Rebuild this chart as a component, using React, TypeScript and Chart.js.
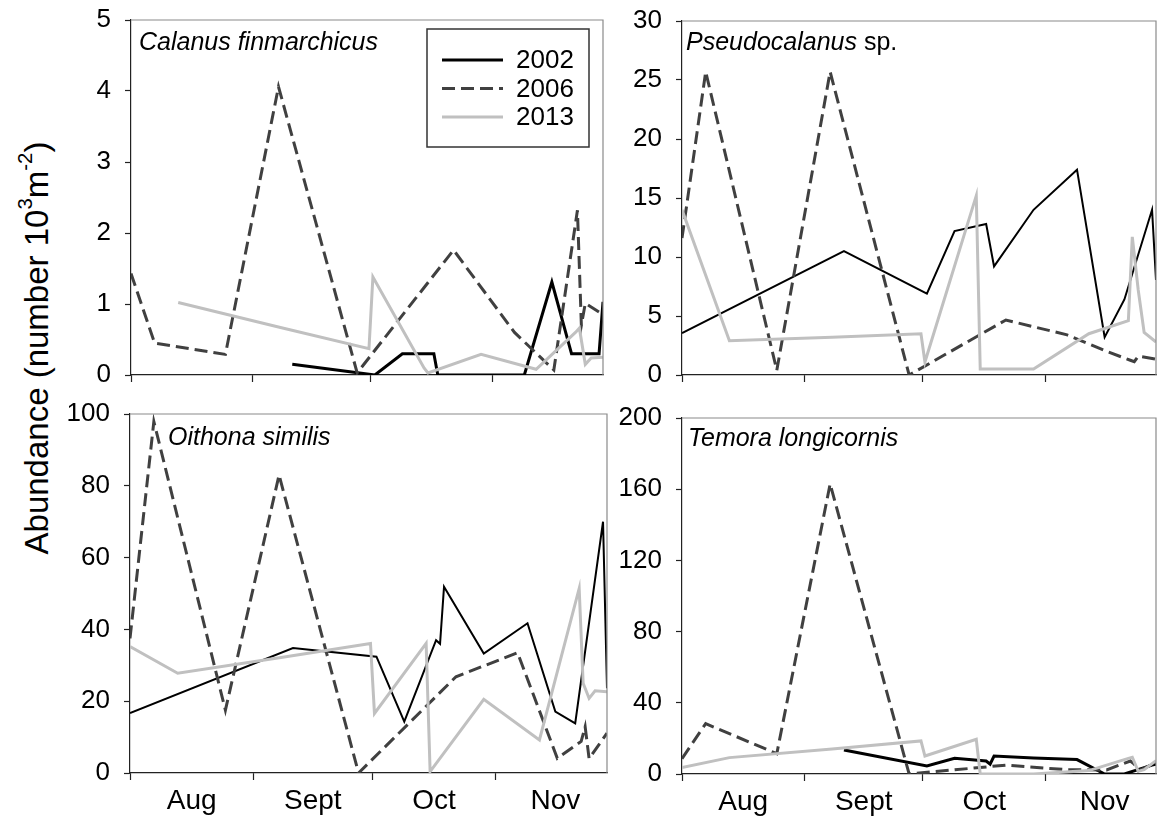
import { useEffect, useRef } from 'react'
import { Chart, registerables, type ChartConfiguration, type Plugin } from 'chart.js'

Chart.register(...registerables)

const FONT = '"Liberation Sans", Arial, sans-serif'

// x axis: days since 1 August
const monthNames = ['Aug', 'Sept', 'Oct', 'Nov']
const monthStarts = [0, 31, 61, 92]
const monthMids = [15.5, 46, 76.5, 107]
const seasonEnd = 120

const years = ['2002', '2006', '2013']

// sampling days per year
const days2002 = [0, 41, 62, 69, 77, 78, 79, 89, 100, 107, 112, 119, 120]
const days2006 = [0, 6, 24, 37.5, 57.5, 82, 97.5, 107.5, 113.5, 114.5, 115.5, 120]
const days2013 = [0, 12, 38, 60.5, 61.5, 74.5, 75.5, 89, 103, 113, 114, 115.5, 117, 120]

// Calanus finmarchicus
const calanus2002 = [null, 0.15, 0, 0.3, 0.3, 0, 0, 0, 0, 1.31, 0.3, 0.3, 1.03]
const calanus2006 = [1.43, 0.45, 0.29, 4.06, 0.03, 1.76, 0.6, 0.07, 2.32, 0.7, 1.01, 0.85]
const calanus2013 = [null, 1.02, 0.67, 0.37, 1.38, 0.1, 0.03, 0.29, 0.08, 0.6, 0.66, 0.15, 0.24, 0.25]

// Pseudocalanus sp.
const pseudo2002 = [3.55, 10.5, 6.9, 12.2, 12.8, 11.0, 9.2, 14.0, 17.4, 3.2, 6.4, 14.0, 8.05]
const pseudo2006 = [11.6, 25.7, 0.4, 25.7, 0, 4.66, 3.4, 2.0, 1.25, 1.13, 1.6, 1.35]
const pseudo2013 = [14.0, 2.9, 3.2, 3.5, 1.1, 15.2, 0.5, 0.5, 3.5, 4.6, 11.7, 7.2, 3.6, 2.8]

// Oithona similis
const oithona2002 = [16.7, 34.8, 32.4, 14.3, 37, 36, 51.9, 33.3, 41.7, 17.1, 13.8, 70, 23.6]
const oithona2006 = [37.5, 97.9, 17.5, 83, 0, 26.8, 33.5, 4.1, 8.8, 12.9, 4, 11.1]
const oithona2013 = [35.2, 27.8, 32.2, 36.1, 16.6, 36.1, 0.4, 20.5, 9.2, 51.4, 25, 20.8, 22.9, 22.6]

// Temora longicornis
const temora2002 = [null, 13.5, 4.5, 8.8, 7.3, 5.5, 10.1, 9, 8.1, 0, 0, 5, 5.5]
const temora2006 = [8.6, 28.3, 11.4, 163, 0, 5, 2.4, 2.3, 7.3, 5.5, 1.8, 6.4]
const temora2013 = [3.6, 9.2, 14, 18.6, 10.1, 19.5, 0, 0, 1.9, 8.8, 9.4, 1.5, 2.4, 7.5]

const yearDays = [days2002, days2006, days2013]

const lineColors = ['#000000', '#404040', '#c0c0c0']
const lineDashes = [[], [13, 6], []]
const axisColor = '#222222'
const frameColor = '#8a8a8a'

interface PanelCfg {
  italic: string
  plain: string
  yMax: number
  yStep: number
  series: (number | null)[][]
  area: { left: number; top: number; right: number; bottom: number }
  months: boolean
  legend: boolean
  blackWidth: number
  titleAt: [number, number]
}

const panels: PanelCfg[] = [
  {
    italic: 'Calanus finmarchicus', plain: '', yMax: 5, yStep: 1,
    series: [calanus2002, calanus2006, calanus2013],
    area: { left: 131, top: 20, right: 603, bottom: 375 },
    months: false, legend: true, blackWidth: 3, titleAt: [8, 30],
  },
  {
    italic: 'Pseudocalanus', plain: 'sp.', yMax: 30, yStep: 5,
    series: [pseudo2002, pseudo2006, pseudo2013],
    area: { left: 682, top: 21, right: 1156, bottom: 375 },
    months: false, legend: false, blackWidth: 2, titleAt: [4, 29],
  },
  {
    italic: 'Oithona similis', plain: '', yMax: 100, yStep: 20,
    series: [oithona2002, oithona2006, oithona2013],
    area: { left: 130, top: 414, right: 607, bottom: 773 },
    months: true, legend: false, blackWidth: 2, titleAt: [38, 31],
  },
  {
    italic: 'Temora longicornis', plain: '', yMax: 200, yStep: 40,
    series: [temora2002, temora2006, temora2013],
    area: { left: 682, top: 418, right: 1156, bottom: 774 },
    months: true, legend: false, blackWidth: 3, titleAt: [6, 28],
  },
]

const PAD_L = 80
const PAD_T = 25
const PAD_B = 48
const PAD_R = 1

function Panel({ cfg }: { cfg: PanelCfg }) {
  const chartRef = useRef<HTMLCanvasElement>(null)
  const w = cfg.area.right - cfg.area.left + PAD_L + PAD_R
  const h = cfg.area.bottom - cfg.area.top + PAD_T + PAD_B

  useEffect(() => {
    if (!chartRef.current) return

    // species name inside the plot, top left
    const titlePlugin: Plugin<'line'> = {
      id: 'speciesTitle',
      afterDraw(chart) {
        const { ctx, chartArea } = chart
        ctx.save()
        ctx.fillStyle = '#000'
        ctx.textAlign = 'left'
        ctx.textBaseline = 'alphabetic'
        let x = chartArea.left + cfg.titleAt[0]
        const y = chartArea.top + cfg.titleAt[1]
        ctx.font = `italic 25px ${FONT}`
        ctx.fillText(cfg.italic, x, y)
        if (cfg.plain) {
          x += ctx.measureText(cfg.italic + ' ').width
          ctx.font = `25px ${FONT}`
          ctx.fillText(cfg.plain, x, y)
        }
        ctx.restore()
      },
    }

    // top and right edges of the frame
    const framePlugin: Plugin<'line'> = {
      id: 'frame',
      afterDatasetsDraw(chart) {
        const { ctx, chartArea } = chart
        ctx.save()
        ctx.strokeStyle = frameColor
        ctx.lineWidth = 1.2
        ctx.beginPath()
        ctx.moveTo(chartArea.left, chartArea.top)
        ctx.lineTo(chartArea.right, chartArea.top)
        ctx.lineTo(chartArea.right, chartArea.bottom)
        ctx.stroke()
        ctx.restore()
      },
    }

    const legendPlugin: Plugin<'line'> = {
      id: 'boxLegend',
      afterDraw(chart) {
        if (!cfg.legend) return
        const { ctx, chartArea } = chart
        const left = chartArea.left + 296
        const top = chartArea.top + 9
        ctx.save()
        ctx.fillStyle = '#fff'
        ctx.fillRect(left, top, 162, 118)
        ctx.strokeStyle = '#333'
        ctx.lineWidth = 1.5
        ctx.strokeRect(left, top, 162, 118)
        chart.data.datasets.forEach((ds, i) => {
          const y = top + 31 + i * 28.5
          ctx.strokeStyle = lineColors[i]
          ctx.lineWidth = 3
          ctx.setLineDash(lineDashes[i])
          ctx.beginPath()
          ctx.moveTo(left + 15, y)
          ctx.lineTo(left + 76, y)
          ctx.stroke()
          ctx.setLineDash([])
          ctx.fillStyle = '#000'
          ctx.font = `26px ${FONT}`
          ctx.textBaseline = 'middle'
          ctx.fillText(String(ds.label), left + 89, y + 1)
        })
        ctx.restore()
      },
    }

    const config: ChartConfiguration<'line'> = {
      type: 'line',
      data: {
        datasets: years.map((year, i) => ({
          label: year,
          data: yearDays[i].map((d, j) => ({ x: d, y: cfg.series[i][j] as number })),
          borderColor: lineColors[i],
          backgroundColor: lineColors[i],
          borderWidth: i === 0 ? cfg.blackWidth : 3,
          borderDash: lineDashes[i],
          pointRadius: 0,
          tension: 0,
          spanGaps: false,
          order: 2 - i,
        })),
      },
      options: {
        animation: false,
        responsive: false,
        events: [],
        layout: { padding: { left: 0, top: PAD_T, right: PAD_R, bottom: 0 } },
        plugins: {
          legend: { display: false },
          tooltip: { enabled: false },
        },
        scales: {
          x: {
            type: 'linear',
            min: 0,
            max: seasonEnd,
            afterBuildTicks: (axis) => {
              axis.ticks = [...monthStarts, ...monthMids]
                .sort((a, b) => a - b)
                .map((v) => ({ value: v }))
            },
            afterFit: (axis) => {
              axis.height = PAD_B
              axis.paddingLeft = 0
              axis.paddingRight = 0
            },
            ticks: {
              autoSkip: false,
              maxRotation: 0,
              minRotation: 0,
              padding: 4,
              color: '#000',
              font: { family: FONT, size: 28 },
              callback: (value) => {
                const k = monthMids.indexOf(Number(value))
                return cfg.months && k >= 0 ? monthNames[k] : ''
              },
            },
            grid: {
              drawOnChartArea: false,
              tickLength: 7,
              tickWidth: 1.2,
              tickColor: (ctx) =>
                ctx.tick && monthStarts.includes(ctx.tick.value) ? axisColor : 'rgba(0,0,0,0)',
            },
            border: { color: axisColor, width: 1.2 },
          },
          y: {
            min: 0,
            max: cfg.yMax,
            afterFit: (axis) => {
              axis.width = PAD_L
              axis.paddingTop = 0
              axis.paddingBottom = 0
            },
            ticks: {
              stepSize: cfg.yStep,
              padding: 14,
              color: '#000',
              font: { family: FONT, size: 26 },
            },
            grid: {
              drawOnChartArea: false,
              tickLength: 6,
              tickWidth: 1.2,
              tickColor: axisColor,
            },
            border: { color: axisColor, width: 1.2 },
          },
        },
      },
      plugins: [framePlugin, titlePlugin, legendPlugin],
    }

    const chart = new Chart(chartRef.current, config)
    return () => chart.destroy()
  }, [cfg])

  return (
    <canvas
      ref={chartRef}
      width={w}
      height={h}
      style={{
        position: 'absolute',
        left: cfg.area.left - PAD_L,
        top: cfg.area.top - PAD_T,
        width: w,
        height: h,
      }}
    />
  )
}

export default function App() {
  return (
    <div
      style={{
        position: 'absolute',
        left: 0,
        top: 0,
        width: 1157,
        height: 816,
        overflow: 'hidden',
        background: '#fff',
        fontFamily: FONT,
      }}
    >
      <div
        style={{
          position: 'absolute',
          left: 36,
          top: 348,
          transform: 'translate(-50%, -50%) rotate(-90deg)',
          fontSize: 33,
          lineHeight: 1,
          whiteSpace: 'nowrap',
          color: '#000',
        }}
      >
        Abundance (number 10
        <sup style={{ fontSize: '0.62em', verticalAlign: '0.75em', lineHeight: 0 }}>3</sup>
        m
        <sup style={{ fontSize: '0.62em', verticalAlign: '0.75em', lineHeight: 0 }}>-2</sup>)
      </div>
      {panels.map((p) => (
        <Panel key={p.italic} cfg={p} />
      ))}
    </div>
  )
}
